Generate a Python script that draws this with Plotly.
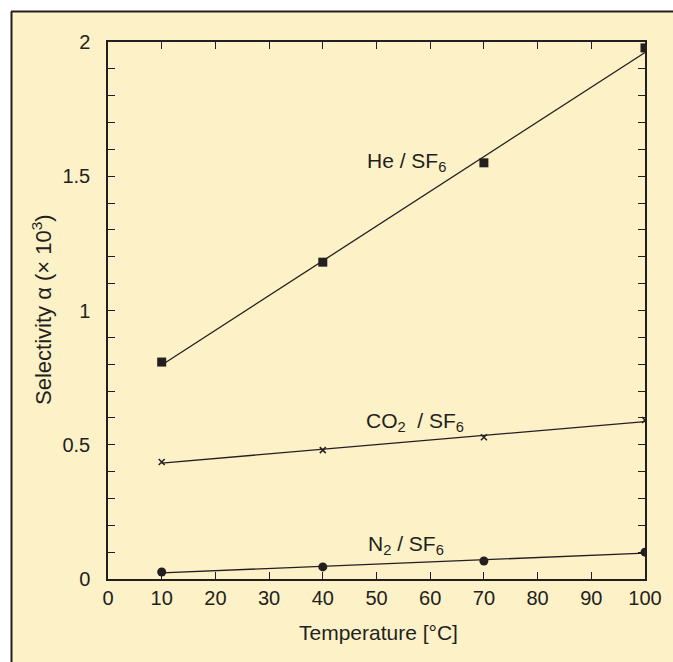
import numpy as np
import plotly.graph_objects as go

temperature = [10, 40, 70, 100]
he_sf6 = [0.808, 1.18, 1.55, 1.978]
co2_sf6 = [0.436, 0.48, 0.528, 0.592]
n2_sf6 = [0.026, 0.045, 0.067, 0.10]

x_ticks = list(range(0, 101, 10))
y_ticks = [0, 0.5, 1, 1.5, 2]
y_tick_labels = ["0", "0.5", "1", "1.5", "2"]

INK = "#231F20"
CREAM = "#FDF1C8"
FONT = "Liberation Sans, Arial, Helvetica, sans-serif"

fig = go.Figure()

series = [
    (he_sf6, "square", 9, dict()),
    (co2_sf6, "x-thin", 6, dict(line=dict(width=1.5, color=INK))),
    (n2_sf6, "circle", 9, dict()),
]
for vals, sym, size, extra in series:
    slope, icpt = np.polyfit(temperature, vals, 1)
    xs = [temperature[0], temperature[-1]]
    ys = [icpt + slope * x for x in xs]
    fig.add_trace(go.Scatter(x=xs, y=ys, mode="lines",
                             line=dict(color=INK, width=1.3),
                             hoverinfo="skip", showlegend=False))
    fig.add_trace(go.Scatter(x=temperature, y=vals, mode="markers",
                             marker=dict(symbol=sym, size=size, color=INK, **extra),
                             showlegend=False))

labels = [
    (55.5, 1.553, "He / SF<sub>6</sub>"),
    (57.2, 0.585, "CO<sub>2</sub>  / SF<sub>6</sub>"),
    (55.5, 0.127, "N<sub>2</sub> / SF<sub>6</sub>"),
]
annotations = [dict(x=x, y=y, text=t, showarrow=False, xref="x", yref="y",
                    font=dict(size=21, color=INK, family=FONT))
               for x, y, t in labels]

# axis titles
annotations.append(dict(x=(378 - 108) / 537, y=(579 - 632) / 537, xref="paper", yref="paper",
                        text="Temperature [°C]", showarrow=False,
                        yanchor="middle", xanchor="center",
                        font=dict(size=21, color=INK, family=FONT)))
annotations.append(dict(x=(42 - 108) / 537, y=(579 - 310) / 537, xref="paper", yref="paper",
                        text="Selectivity α (× 10<sup>3</sup>)", showarrow=False,
                        textangle=-90, xanchor="center", yanchor="middle",
                        font=dict(size=22, color=INK, family=FONT)))

shapes = [
    dict(type="rect", xref="paper", yref="paper",
         x0=(11 - 108) / 537, x1=1.06, y0=-0.16, y1=(579 - 11) / 537,
         fillcolor=CREAM, line=dict(width=0), layer="below"),
    dict(type="line", xref="paper", yref="paper",
         x0=(11.5 - 108) / 537, x1=(11.5 - 108) / 537, y0=-0.16, y1=(579 - 11.5) / 537,
         line=dict(color=INK, width=2), layer="below"),
    dict(type="line", xref="paper", yref="paper",
         x0=(11 - 108) / 537, x1=1.06, y0=(579 - 11.5) / 537, y1=(579 - 11.5) / 537,
         line=dict(color=INK, width=2), layer="below"),
]

fig.update_layout(
    width=673, height=662,
    margin=dict(l=108, r=28, t=42, b=83),
    paper_bgcolor="white",
    plot_bgcolor=CREAM,
    font=dict(family=FONT, color=INK, size=20),
    annotations=annotations,
    shapes=shapes,
    xaxis=dict(range=[0, 100], tickvals=x_ticks, ticks="inside", ticklen=7,
               tickwidth=1.2, tickcolor=INK, showline=True, linecolor=INK,
               linewidth=1.5, mirror="ticks", showgrid=False, zeroline=False,
               tickfont=dict(size=20, color=INK, family=FONT)),
    yaxis=dict(range=[0, 2], tickvals=y_ticks, ticktext=y_tick_labels,
               ticks="inside", ticklen=7, tickwidth=1.2, tickcolor=INK,
               showline=True, linecolor=INK, linewidth=1.5, mirror="ticks",
               showgrid=False, zeroline=False, ticklabelstandoff=12,
               minor=dict(dtick=0.1, ticks="inside", ticklen=7, tickwidth=1.2,
                          tickcolor=INK, showgrid=False),
               tickfont=dict(size=20, color=INK, family=FONT)),
)

fig.write_html("out.html", config={"displayModeBar": False},
               post_script="document.body.style.margin='0';document.body.style.overflow='hidden';")
